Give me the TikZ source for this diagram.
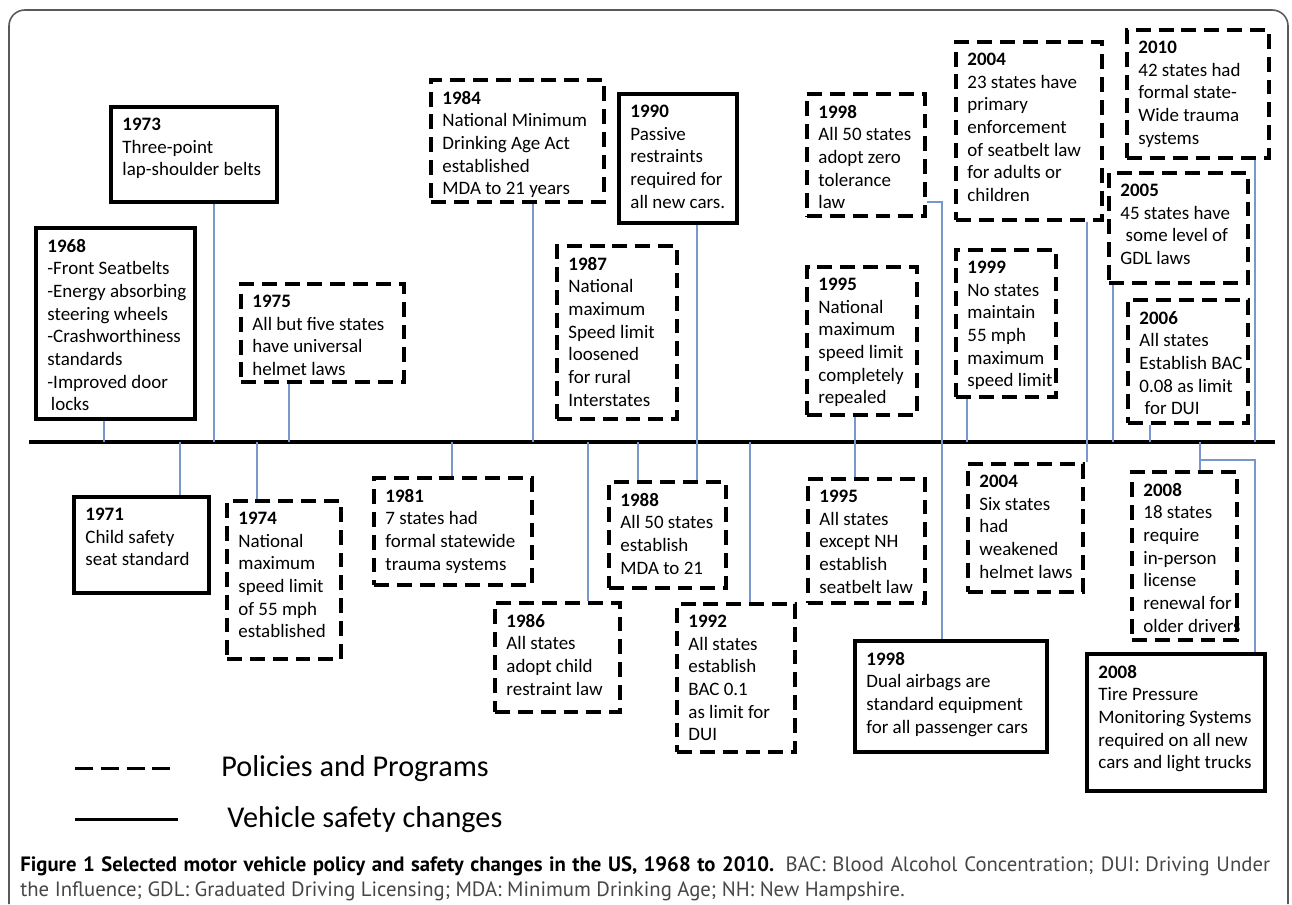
\documentclass[tikz,border=0pt]{standalone}
\usepackage{fontspec}
\setmainfont{Carlito}
\newfontfamily\capfont{PT Sans}
\usepackage{tikz}
\usetikzlibrary{fit,calc}
\definecolor{linkblue}{RGB}{120,152,204}
\definecolor{capgray}{RGB}{70,70,70}
\tikzset{solidbox/.style={draw,line width=1.8pt,inner sep=0pt}}
\tikzset{dashbox/.style={solidbox,dash pattern=on 8.5pt off 4.5pt}}
\tikzset{boxtext/.style={anchor=north west,inner xsep=7.2pt,inner ysep=7pt,
                         align=left,font=\fontsize{10.8}{12.9}\selectfont}}
\tikzset{link/.style={draw=linkblue,line width=0.6pt}}
\tikzset{legtext/.style={anchor=west,inner sep=0pt,font=\fontsize{17.2}{19}\selectfont}}
% one event: style, name, two corners, text
\newcommand{\event}[5]{%
  \node[#1,fit={#3 #4}] (b#2) {};
  \node[boxtext] (t#2) at (b#2.north west) {#5};}

\begin{document}
\begin{tikzpicture}[x=0.02cm,y=-0.02cm]
    \useasboundingbox (0,0) rectangle (1292,904);
    % frame
    \draw[gray!70!black,line width=0.9pt,rounded corners=9pt]
        (9,904) -- (9,10) -- (1288,10) -- (1288,904);

    % timeline
    \coordinate (tlL) at (29,442);
    \coordinate (tlR) at (1275,442);
    \draw[line width=1.8pt] (tlL) -- (tlR);

    % events above the line
    \event{solidbox}{1968}{(36,228)}{(195,419)}{\textbf{1968}\\-Front Seatbelts\\-Energy absorbing\\steering wheels\\-Crashworthiness\\standards\\-Improved door\\\hspace{2pt}locks}
    \event{solidbox}{1973}{(111,107)}{(277,202)}{\textbf{1973}\\Three-point\\lap-shoulder belts}
    \event{dashbox}{1975}{(241,284)}{(404,382)}{\textbf{1975}\\All but five states\\have universal\\helmet laws}
    \event{dashbox}{1984}{(431,80)}{(604,202)}{\textbf{1984}\\National Minimum\\Drinking  Age Act\\established\\MDA to 21 years}
    \event{solidbox}{1990}{(619,94)}{(737,223)}{\textbf{1990}\\Passive\\restraints\\required for\\all new cars.}
    \event{dashbox}{1987}{(557,246)}{(677,419)}{\textbf{1987}\\National\\maximum\\Speed limit\\loosened\\for rural\\Interstates}
    \event{dashbox}{1998p}{(807,94)}{(925,216)}{\textbf{1998}\\All 50 states\\adopt zero\\tolerance\\law}
    \event{dashbox}{1995p}{(807,267)}{(917,415)}{\textbf{1995}\\National\\maximum\\speed limit\\completely\\repealed}
    \event{dashbox}{2004p}{(956,42)}{(1102,220)}{\textbf{2004}\\23 states have\\primary\\enforcement\\of seatbelt law\\for adults or\\children}
    \event{dashbox}{2010}{(1127,30)}{(1269,158)}{\textbf{2010}\\42 states had\\formal state-\\Wide trauma\\systems}
    \event{dashbox}{2005}{(1109,173)}{(1248,283)}{\textbf{2005}\\45 states  have\\\hspace{3pt}some level of\\GDL laws}
    \event{dashbox}{1999}{(956,250)}{(1056,397)}{\textbf{1999}\\No states\\maintain\\55 mph\\maximum\\speed limit}
    \event{dashbox}{2006}{(1128,300)}{(1248,423)}{\textbf{2006}\\All states\\Establish BAC\\0.08 as limit\\\hspace{3pt}for DUI}

    % events below the line
    \event{solidbox}{1971}{(74,497)}{(209,593)}{\textbf{1971}\\Child safety\\seat standard}
    \event{dashbox}{1974}{(227,501)}{(341,659)}{\textbf{1974}\\National\\maximum\\speed limit\\of 55  mph\\established}
    \event{dashbox}{1981}{(374,478)}{(532,585)}{\textbf{1981}\\7 states had\\formal statewide\\trauma systems}
    \event{dashbox}{1986}{(495,603)}{(620,712)}{\textbf{1986}\\All  states\\adopt child\\restraint law}
    \event{dashbox}{1988}{(609,482)}{(726,588)}{\textbf{1988}\\All 50 states\\establish\\MDA to 21}
    \event{dashbox}{1992}{(677,604)}{(795,752)}{\textbf{1992}\\All states\\establish\\BAC 0.1\\as limit for\\DUI}
    \event{dashbox}{1995v}{(808,479)}{(925,603)}{\textbf{1995}\\All states\\except NH\\establish\\seatbelt law}
    \event{solidbox}{1998v}{(855,641)}{(1047,752)}{\textbf{1998}\\Dual airbags are\\standard equipment\\for all passenger cars}
    \event{dashbox}{2004v}{(968,464)}{(1083,592)}{\textbf{2004}\\Six states\\had\\weakened\\helmet laws}
    \event{dashbox}{2008p}{(1132,472)}{(1237,640)}{\textbf{2008}\\18 states\\require\\in-person\\license\\renewal for\\older drivers}
    \event{solidbox}{2008v}{(1087,654)}{(1265,791)}{\textbf{2008}\\Tire Pressure\\Monitoring Systems\\required on all new\\cars and light trucks}

    % connectors from boxes above
    \foreach \n/\x in {1968/104,1973/214,1975/289,1984/533,1999/967,2005/1113,2006/1150,2010/1255}{
        \coordinate (k\n) at (\x,442);
        \draw[link] (b\n.south -| k\n) -- (k\n);
    }
    % connectors to boxes below
    \foreach \n/\x in {1971/180,1974/257,1981/452,1986/588,1988/638,1992/750,2008p/1200}{
        \coordinate (k\n) at (\x,442);
        \draw[link] (k\n) -- (b\n.north -| k\n);
    }
    % connectors crossing the line
    \coordinate (k1990) at (697,442);
    \draw[link] (b1990.south -| k1990) -- (b1988.north -| k1990);
    \coordinate (k1995) at (855,442);
    \draw[link] (b1995p.south -| k1995) -- (b1995v.north -| k1995);
    \coordinate (k2004) at (1087,442);
    \draw[link] (b2004p.south -| k2004) -- (b2004v.north -| k2004);
    \coordinate (j1998) at (942,202);
    \draw[link] (b1998p.east |- j1998) -- (j1998) -- (b1998v.north -| j1998);
    \coordinate (j2008) at (1255,460);
    \draw[link] (k2008p) |- (j2008) -- (b2008v.north -| j2008);

    % legend
    \draw[line width=1.7pt,dash pattern=on 10.2pt off 4.5pt] (75,768) -- (172,768);
    \node[legtext] (legpol) at (221,769) {Policies and Programs};
    \draw[line width=1.7pt] (75,819) -- (178,819);
    \node[legtext] (legveh) at (227,820) {Vehicle safety changes};

    % caption
    \node[anchor=north west,inner sep=0pt,align=left,
          font=\capfont\fontsize{11.8}{14.2}\selectfont] (caption) at (20,856)
        {\makebox[25cm][s]{\textbf{Figure 1 Selected motor vehicle policy and safety changes in the US, 1968 to 2010.}
         {\color{capgray}BAC: Blood Alcohol Concentration; DUI: Driving Under}}\\
         {\color{capgray}the Influence; GDL: Graduated Driving Licensing; MDA: Minimum Drinking Age; NH: New Hampshire.}};
\end{tikzpicture}
\end{document}
